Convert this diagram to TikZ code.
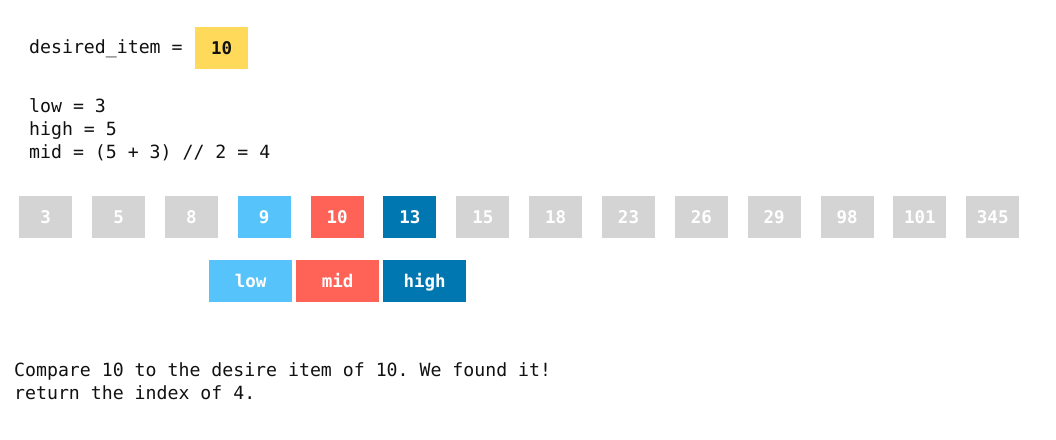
\documentclass[tikz,border=0pt]{standalone}
\usepackage{fontspec}
\setmonofont{DejaVu Sans Mono}
\definecolor{ygold}{HTML}{FFD95A}
\definecolor{lblue}{HTML}{56C3FA}
\definecolor{cred}{HTML}{FF6257}
\definecolor{dblue}{HTML}{0077B1}
\definecolor{cgrey}{HTML}{D4D4D4}
\definecolor{ink}{HTML}{111111}
\begin{document}
\begin{tikzpicture}[x=1pt,y=-1pt,
  cell/.style={minimum width=53pt,minimum height=42pt,inner sep=0pt,anchor=north west,
    text height=12.8pt,text depth=0pt,
    font=\fontsize{17.5}{17.5}\selectfont\ttfamily\bfseries,text=white},
  tag/.style={cell,minimum width=83pt},
  code/.style={anchor=base west,inner sep=0pt,font=\fontsize{18.2}{18.2}\selectfont\ttfamily,text=ink}]
\useasboundingbox (0,0) rectangle (1056,439);
\node[code] (lbl) at (29,53) {desired\_item =};
\node[cell,fill=ygold,text=ink] (want) at (195,27) {10};
\node[code] (l1) at (29,112) {low = 3};
\node[code] (l2) at (29,135) {high = 5};
\node[code] (l3) at (29,158) {mid = (5 + 3) // 2 = 4};
\foreach \v [count=\i from 0] in {3,5,8,9,10,13,15,18,23,26,29,98,101,345}{
  \node[cell,fill=cgrey] (c\i) at ({19+72.85*\i},196) {\v};
}
\node[cell,fill=lblue] at (c3.north west) {9};
\node[cell,fill=cred] at (c4.north west) {10};
\node[cell,fill=dblue] at (c5.north west) {13};
\node[tag,fill=lblue] (low) at (209,260) {low};
\node[tag,fill=cred] (mid) at (296,260) {mid};
\node[tag,fill=dblue] (high) at (383,260) {high};
\node[code] (m1) at (14,376) {Compare 10 to the desire item of 10. We found it!};
\node[code] (m2) at (14,399) {return the index of 4.};
\end{tikzpicture}
\end{document}
